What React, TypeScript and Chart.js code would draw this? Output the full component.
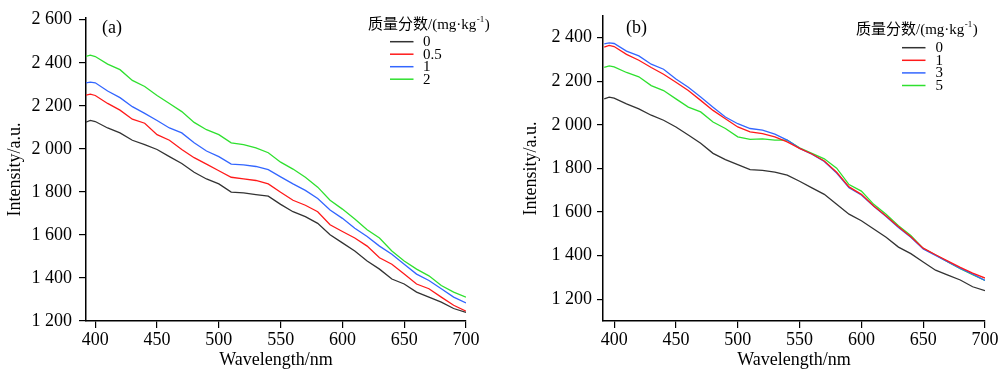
import React, { useEffect, useRef } from 'react';
import { Chart, registerables } from 'chart.js';

Chart.register(...registerables);

// ---- Data ----
const wavelengths = [392, 396, 400, 410, 420, 430, 440, 450, 460, 470, 480, 490, 500, 510, 520, 530, 540, 550, 560, 570, 580, 590, 600, 610, 620, 630, 640, 650, 660, 670, 680, 690, 700];

// Panel (a): mass fraction 0, 0.5, 1, 2 mg/kg
const a_0 = [2123, 2132, 2127, 2097, 2074, 2040, 2020, 1997, 1964, 1932, 1891, 1860, 1837, 1799, 1795, 1787, 1780, 1742, 1708, 1685, 1654, 1601, 1563, 1525, 1479, 1441, 1395, 1372, 1334, 1311, 1288, 1258, 1240];
const a_05 = [2249, 2254, 2248, 2211, 2180, 2138, 2119, 2066, 2040, 1997, 1959, 1929, 1898, 1868, 1860, 1853, 1837, 1798, 1761, 1738, 1708, 1647, 1616, 1586, 1548, 1494, 1464, 1418, 1372, 1350, 1311, 1273, 1246];
const a_1 = [2306, 2310, 2307, 2269, 2238, 2196, 2165, 2132, 2097, 2074, 2028, 1990, 1964, 1929, 1926, 1918, 1903, 1870, 1837, 1807, 1769, 1716, 1677, 1631, 1593, 1548, 1510, 1464, 1418, 1388, 1350, 1311, 1284];
const a_2 = [2429, 2435, 2429, 2394, 2368, 2318, 2290, 2248, 2211, 2173, 2123, 2089, 2066, 2028, 2020, 2004, 1982, 1938, 1906, 1868, 1822, 1761, 1720, 1674, 1624, 1586, 1525, 1479, 1441, 1410, 1365, 1334, 1311];

// Panel (b): mass fraction 0, 1, 3, 5 mg/kg
const b_0 = [2119, 2127, 2122, 2096, 2073, 2044, 2021, 1990, 1953, 1915, 1869, 1840, 1817, 1794, 1791, 1783, 1769, 1741, 1711, 1681, 1635, 1590, 1560, 1522, 1484, 1439, 1409, 1371, 1333, 1310, 1288, 1257, 1239];
const b_1 = [2356, 2364, 2359, 2323, 2296, 2263, 2232, 2195, 2157, 2112, 2066, 2028, 1990, 1968, 1960, 1945, 1922, 1892, 1866, 1834, 1782, 1715, 1681, 1628, 1582, 1532, 1486, 1434, 1404, 1375, 1346, 1320, 1297];
const b_3 = [2371, 2376, 2373, 2338, 2316, 2278, 2255, 2210, 2172, 2127, 2081, 2036, 2005, 1983, 1976, 1957, 1930, 1892, 1865, 1832, 1779, 1711, 1678, 1626, 1579, 1529, 1484, 1431, 1401, 1371, 1341, 1315, 1286];
const b_5 = [2263, 2270, 2266, 2240, 2220, 2180, 2157, 2119, 2081, 2059, 2013, 1983, 1945, 1933, 1935, 1930, 1930, 1894, 1869, 1844, 1801, 1726, 1696, 1635, 1590, 1537, 1492, 1433, 1403, 1371, 1340, 1313, 1286];

const labelsA = ['0', '0.5', '1', '2'];
const labelsB = ['0', '1', '3', '5'];
const xTicks = [400, 450, 500, 550, 600, 650, 700];
const yTicksA = [1200, 1400, 1600, 1800, 2000, 2200, 2400, 2600];
const yTicksB = [1200, 1400, 1600, 1800, 2000, 2200, 2400];

const COLORS = ['#333333', '#ff1a1a', '#3366ff', '#2fe02f'];
const SERIF = "'Liberation Serif', 'Times New Roman', 'Noto Sans CJK SC', serif";

const fmt = (v: number) => {
  const s = String(v);
  return s.length > 3 ? s.slice(0, s.length - 3) + ' ' + s.slice(s.length - 3) : s;
};

type PanelCfg = {
  tag: string;
  series: number[][];
  labels: string[];
  yTicks: number[];
  yMin: number;
  yMax: number;
  xMin: number;
  yWidth: number;
  padRight: number;
  yTickLen: number;
  yTickPad: number;
  yTitlePad: number;
  tagX: number;
  legendTitleX: number;
  legendTitleY: number;
  legendLineX: number;
  legendLabelX: number;
  legendYs: number[];
};

const legendPlugin = (cfg: PanelCfg) => ({
  id: 'customLegend' + cfg.tag,
  afterDraw(chart: any) {
    const ctx = chart.ctx as CanvasRenderingContext2D;
    ctx.save();
    ctx.fillStyle = '#000';
    // panel tag
    ctx.font = `18px ${SERIF}`;
    ctx.textBaseline = 'middle';
    ctx.textAlign = 'left';
    ctx.fillText(cfg.tag, cfg.tagX, 28);
    // legend title with superscript
    ctx.font = `15px ${SERIF}`;
    let x = cfg.legendTitleX;
    const main = '质量分数/(mg·kg';
    ctx.fillText(main, x, cfg.legendTitleY);
    x += ctx.measureText(main).width;
    ctx.font = `9px ${SERIF}`;
    ctx.fillText('-1', x + 0.5, cfg.legendTitleY - 5);
    x += ctx.measureText('-1').width + 1;
    ctx.font = `15px ${SERIF}`;
    ctx.fillText(')', x, cfg.legendTitleY);
    // entries
    cfg.labels.forEach((lab, i) => {
      const y = cfg.legendYs[i];
      ctx.strokeStyle = COLORS[i];
      ctx.lineWidth = 1.5;
      ctx.beginPath();
      ctx.moveTo(cfg.legendLineX, y);
      ctx.lineTo(cfg.legendLineX + 23.5, y);
      ctx.stroke();
      ctx.fillStyle = '#000';
      ctx.font = `15px ${SERIF}`;
      ctx.fillText(lab, cfg.legendLabelX, y + 0.5);
    });
    ctx.restore();
  },
});

function Panel({ cfg, left }: { cfg: PanelCfg; left: number }) {
  const ref = useRef<HTMLCanvasElement | null>(null);
  useEffect(() => {
    if (!ref.current) return;
    const chart = new Chart(ref.current, {
      type: 'line',
      data: {
        datasets: cfg.series.map((s, i) => ({
          label: cfg.labels[i],
          data: wavelengths.map((w, j) => ({ x: w, y: s[j] })),
          borderColor: COLORS[i],
          backgroundColor: COLORS[i],
          borderWidth: 1.3,
          pointRadius: 0,
          tension: 0,
          fill: false,
        })),
      },
      options: {
        animation: false,
        responsive: false,
        devicePixelRatio: 1,
        layout: { padding: { left: 0, right: cfg.padRight, top: 13, bottom: 0 } },
        plugins: { legend: { display: false }, tooltip: { enabled: false } },
        scales: {
          x: {
            type: 'linear',
            min: cfg.xMin,
            max: 700,
            afterBuildTicks: (scale: any) => {
              scale.ticks = xTicks.map((v) => ({ value: v }));
            },
            afterFit: (scale: any) => {
              scale.height = 52;
            },
            grid: { display: true, drawOnChartArea: false, drawTicks: true, tickLength: 7, color: '#000', lineWidth: 1.2 },
            border: { display: true, color: '#000', width: 1.5 },
            ticks: {
              color: '#000',
              font: { family: SERIF, size: 18 },
              padding: 1,
              maxRotation: 0,
              autoSkip: false,
              callback: (v: any) => String(v),
            },
            title: {
              display: true,
              text: 'Wavelength/nm',
              color: '#000',
              font: { family: SERIF, size: 18 },
              padding: { top: 0, bottom: 2 },
            },
          },
          y: {
            type: 'linear',
            min: cfg.yMin,
            max: cfg.yMax,
            afterBuildTicks: (scale: any) => {
              scale.ticks = cfg.yTicks.map((v) => ({ value: v }));
            },
            afterFit: (scale: any) => {
              scale.width = cfg.yWidth;
            },
            grid: { display: true, drawOnChartArea: false, drawTicks: true, tickLength: cfg.yTickLen, color: '#000', lineWidth: 1.2 },
            border: { display: true, color: '#000', width: 1.5 },
            ticks: {
              color: '#000',
              font: { family: SERIF, size: 18 },
              padding: cfg.yTickPad,
              autoSkip: false,
              callback: (v: any) => fmt(Number(v)),
            },
            title: {
              display: true,
              text: 'Intensity/a.u.',
              color: '#000',
              font: { family: SERIF, size: 18 },
              padding: { top: cfg.yTitlePad, bottom: 0 },
            },
          },
        },
      },
      plugins: [legendPlugin(cfg)],
    } as any);
    return () => chart.destroy();
  }, [cfg]);
  return (
    <canvas
      ref={ref}
      width={500}
      height={373}
      style={{ position: 'absolute', left, top: 0, width: 500, height: 373 }}
    />
  );
}

const cfgA: PanelCfg = {
  tag: '(a)',
  series: [a_0, a_05, a_1, a_2],
  labels: labelsA,
  yTicks: yTicksA,
  yMin: 1200,
  yMax: 2609,
  xMin: 392.5,
  yWidth: 86,
  padRight: 34,
  yTickLen: 7,
  yTickPad: 7,
  yTitlePad: 4,
  tagX: 102,
  legendTitleX: 368,
  legendTitleY: 25,
  legendLineX: 390,
  legendLabelX: 423,
  legendYs: [41.7, 54.2, 66.7, 79.2],
};

const cfgB: PanelCfg = {
  tag: '(b)',
  series: [b_0, b_1, b_3, b_5],
  labels: labelsB,
  yTicks: yTicksB,
  yMin: 1100,
  yMax: 2500,
  xMin: 391,
  yWidth: 103,
  padRight: 15,
  yTickLen: 6,
  yTickPad: 5,
  yTitlePad: 20,
  tagX: 126,
  legendTitleX: 356,
  legendTitleY: 30,
  legendLineX: 402,
  legendLabelX: 435.5,
  legendYs: [47.7, 60.3, 72.9, 85.5],
};

export default function App() {
  return (
    <div style={{ position: 'fixed', left: 0, top: 0, width: 1000, height: 373, background: '#fff' }}>
      <Panel cfg={cfgA} left={0} />
      <Panel cfg={cfgB} left={500} />
    </div>
  );
}
